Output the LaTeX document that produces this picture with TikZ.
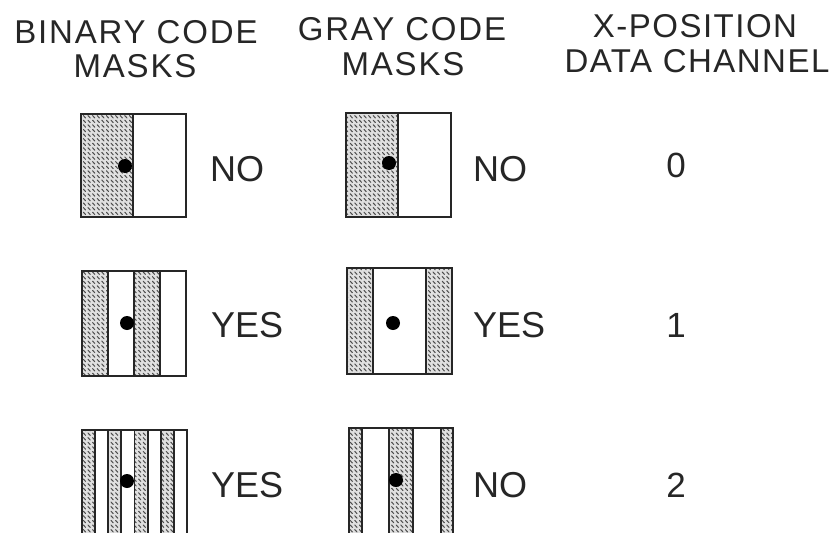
\documentclass[tikz,border=0pt]{standalone}
\usepackage{fontspec}
\setmainfont{Liberation Sans}
\newfontfamily\hdrfont[LetterSpace=5.5]{Liberation Sans}
\newfontfamily\hdrfontb[LetterSpace=4.5]{Liberation Sans}
\usetikzlibrary{patterns}
\pgfdeclarepatternformonly{maskdash}{\pgfqpoint{-1pt}{-1pt}}{\pgfqpoint{6pt}{6pt}}{\pgfqpoint{4.6pt}{4.6pt}}{%
  \pgfsetlinewidth{1pt}\pgfsetroundcap
  \pgfpathmoveto{\pgfqpoint{0.6pt}{3.4pt}}\pgfpathlineto{\pgfqpoint{2.8pt}{1.0pt}}\pgfusepath{stroke}}
\tikzset{
  maskband/.style={fill=black!12, postaction={pattern=maskdash, pattern color=black!70}},
  maskline/.style={line width=1.8pt, draw=black!85},
  hole/.style={circle, fill=black, inner sep=0pt, minimum size=14pt},
  hdr/.style={font=\hdrfont\fontsize{33}{36}\selectfont, text=black!85, inner sep=0pt, anchor=base},
  hdrb/.style={font=\hdrfontb\fontsize{33}{36}\selectfont, text=black!85, inner sep=0pt, anchor=base},
  ans/.style={font=\fontsize{36}{40}\selectfont, text=black!85, inner sep=0pt, anchor=base west},
  num/.style={font=\fontsize{35}{40}\selectfont, text=black!85, inner sep=0pt, anchor=base},
}
\begin{document}
\begin{tikzpicture}[x=1pt,y=-1pt]
\useasboundingbox (0,0) rectangle (839,533);
% headers
\node[hdr] (h1a) at (136,43) {BINARY CODE};
\node[hdr] (h1b) at (135,77) {MASKS};
\node[hdr] (h2a) at (402,40) {GRAY CODE};
\node[hdr] (h2b) at (403,75) {MASKS};
\node[hdrb] (h3a) at (695,37) {X-POSITION};
\node[hdrb] (h3b) at (697,72) {DATA CHANNEL};
% row 1 binary
\fill[maskband] (81,114) rectangle (133,217);
\draw[maskline] (133,114) -- (133,217);
\draw[maskline] (81,114) rectangle (186,217);
\node[hole] (d1) at (125,166) {};
% row 1 gray
\fill[maskband] (346,113) rectangle (398,217);
\draw[maskline] (398,113) -- (398,217);
\draw[maskline] (346,113) rectangle (451,217);
\node[hole] (g1) at (389,163) {};
% row 2 binary
\fill[maskband] (82,271) rectangle (108,376);
\fill[maskband] (134,271) rectangle (160,376);
\foreach \x in {108,134,160} \draw[maskline] (\x,271) -- (\x,376);
\draw[maskline] (82,271) rectangle (186,376);
\node[hole] (d2) at (127,323) {};
% row 2 gray
\fill[maskband] (347,268) rectangle (373,374);
\fill[maskband] (426,268) rectangle (452,374);
\foreach \x in {373,426} \draw[maskline] (\x,268) -- (\x,374);
\draw[maskline] (347,268) rectangle (452,374);
\node[hole] (g2) at (393,323) {};
% row 3
\begin{scope}
\clip (0,0) rectangle (839,533);
\foreach \i in {0,2,4,6} \fill[maskband] ({82+\i*13.125},430) rectangle ({82+(\i+1)*13.125},560);
\foreach \i in {1,...,7} \draw[maskline] ({82+\i*13.125},430) -- ({82+\i*13.125},560);
\draw[maskline] (82,430) rectangle (187,560);
\node[hole] (d3) at (127,481) {};
\fill[maskband] (349,428) rectangle (362,560);
\fill[maskband] (389,428) rectangle (413,560);
\fill[maskband] (441,428) rectangle (453,560);
\foreach \x in {362,389,413,441} \draw[maskline] (\x,428) -- (\x,560);
\draw[maskline] (349,428) rectangle (453,560);
\node[hole] (g3) at (396,480) {};
\end{scope}
% answers
\node[ans] (a1) at (210,181) {NO};
\node[ans] (b1) at (473,181) {NO};
\node[ans] (a2) at (211,337) {YES};
\node[ans] (b2) at (473,337) {YES};
\node[ans] (a3) at (211,497) {YES};
\node[ans] (b3) at (473,497) {NO};
% channel numbers
\node[num] (n0) at (676,177) {0};
\node[num] (n1) at (676,337) {1};
\node[num] (n2) at (676,497) {2};
\end{tikzpicture}
\end{document}
